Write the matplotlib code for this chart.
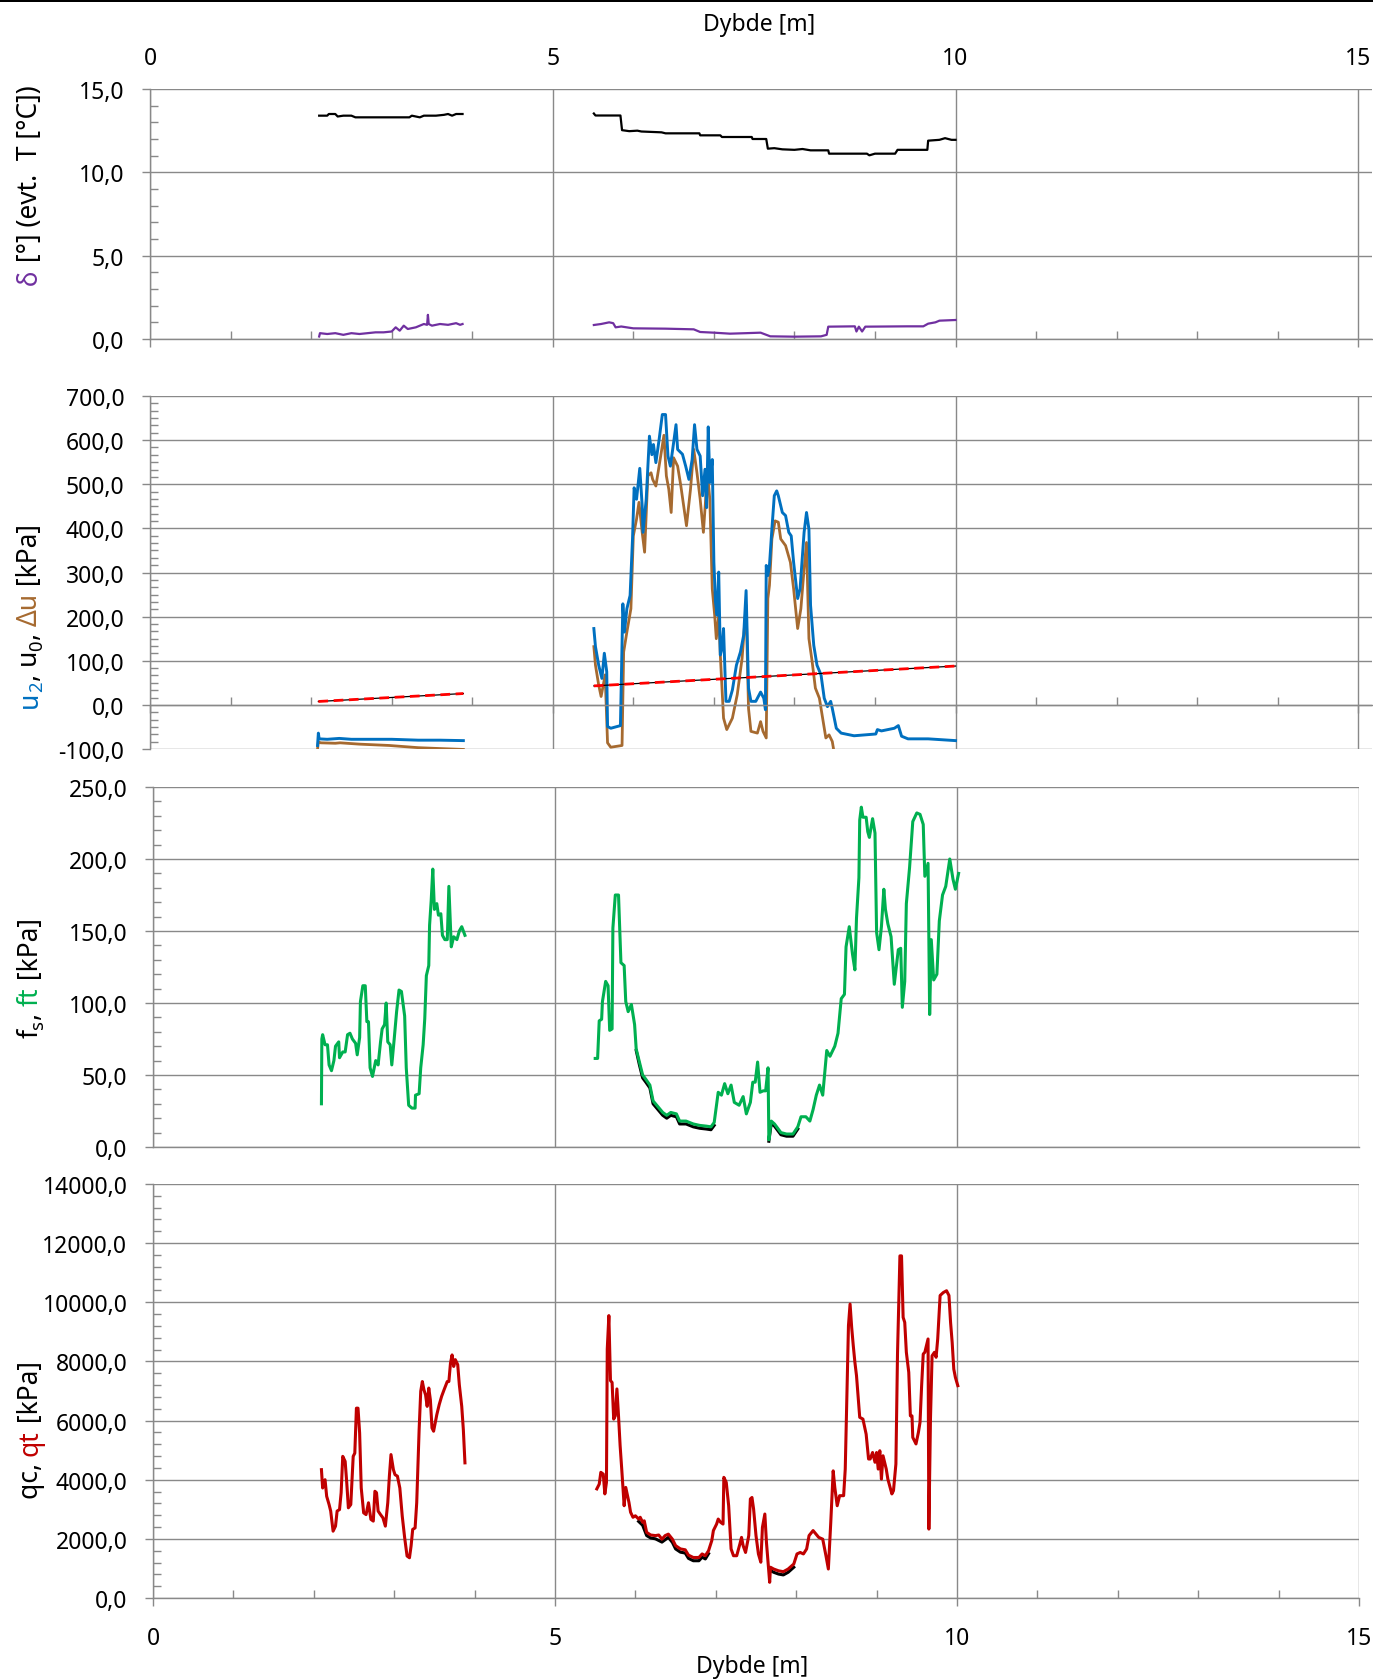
import matplotlib
matplotlib.use("Agg")
import matplotlib.pyplot as plt
from matplotlib.ticker import MultipleLocator, FuncFormatter
from matplotlib.patches import Rectangle

plt.rcParams['font.family'] = ['Noto Sans', 'DejaVu Sans']

# ---- data ----
# panel 1: temperature T (black) and inclination delta (purple)
T_z1 = [2.10, 2.20, 2.22, 2.30, 2.33, 2.40, 2.50, 2.55, 3.22, 3.25, 3.35, 3.40, 3.55, 3.65, 3.70, 3.75, 3.80, 3.88]
T_v1 = [13.4, 13.4, 13.5, 13.5, 13.35, 13.4, 13.4, 13.3, 13.3, 13.4, 13.3, 13.4, 13.4, 13.45, 13.5, 13.4, 13.5, 13.5]
T_z2 = [5.51, 5.53, 5.84, 5.86, 5.95, 6.05, 6.10, 6.25, 6.35, 6.40, 6.82, 6.83, 7.08, 7.10, 7.47, 7.48,
        7.65, 7.67, 7.75, 7.85, 8.00, 8.10, 8.20, 8.42, 8.43, 8.90, 8.93, 9.00, 9.25, 9.28, 9.65, 9.66,
        9.80, 9.87, 9.95, 10.0]
T_v2 = [13.53, 13.41, 13.41, 12.53, 12.47, 12.5, 12.45, 12.42, 12.4, 12.34, 12.34, 12.22, 12.22, 12.12, 12.12, 12.0,
        12.0, 11.42, 11.45, 11.38, 11.35, 11.4, 11.32, 11.32, 11.12, 11.12, 11.02, 11.12, 11.12, 11.35, 11.35, 11.9,
        11.95, 12.05, 11.95, 11.95]
d_z1 = [2.10, 2.11, 2.20, 2.30, 2.40, 2.45, 2.50, 2.60, 2.70, 2.80, 2.90, 3.00, 3.05, 3.10, 3.15, 3.20, 3.30,
        3.40, 3.44, 3.45, 3.46, 3.50, 3.60, 3.70, 3.80, 3.85, 3.88]
d_v1 = [0.15, 0.35, 0.3, 0.35, 0.25, 0.3, 0.35, 0.3, 0.35, 0.4, 0.4, 0.45, 0.7, 0.5, 0.8, 0.6, 0.7,
        0.9, 0.85, 1.45, 0.9, 0.8, 0.9, 0.85, 0.95, 0.85, 0.9]
d_z2 = [5.51, 5.60, 5.70, 5.75, 5.78, 5.85, 6.00, 6.40, 6.75, 6.83, 7.00, 7.20, 7.40, 7.58, 7.70, 8.00, 8.33,
        8.40, 8.42, 8.75, 8.77, 8.80, 8.84, 8.88, 9.40, 9.60, 9.66, 9.75, 9.80, 10.0]
d_v2 = [0.84, 0.9, 1.0, 0.95, 0.7, 0.75, 0.64, 0.62, 0.58, 0.42, 0.38, 0.32, 0.35, 0.38, 0.16, 0.14, 0.16,
        0.25, 0.74, 0.76, 0.45, 0.74, 0.45, 0.74, 0.76, 0.76, 0.92, 1.0, 1.1, 1.14]

# panel 2: u2 (blue), du (brown), u0 (black / red dashed)
u2_z1 = [2.08, 2.09, 2.10, 2.20, 2.35, 2.50, 3.00, 3.33, 3.60, 3.89]
u2_v1 = [-92, -64, -77, -78, -76, -78, -78, -80, -80, -81]
u2_z2 = [5.51, 5.53, 5.57, 5.61, 5.64, 5.67, 5.68, 5.72, 5.84, 5.87,
         5.89, 5.92, 5.96, 5.99, 6.01, 6.04, 6.08, 6.11, 6.12, 6.16,
         6.20, 6.23, 6.25, 6.28, 6.32, 6.36, 6.40, 6.43, 6.46, 6.50,
         6.53, 6.55, 6.61, 6.65, 6.69, 6.73, 6.76, 6.79, 6.83, 6.86,
         6.89, 6.91, 6.93, 6.95, 6.98, 7.00, 7.02, 7.04, 7.06, 7.08,
         7.10, 7.12, 7.15, 7.19, 7.23, 7.28, 7.33, 7.37, 7.40, 7.43,
         7.46, 7.52, 7.58, 7.62, 7.64, 7.65, 7.67, 7.69, 7.72, 7.75,
         7.78, 7.80, 7.85, 7.89, 7.93, 7.96, 7.99, 8.04, 8.07, 8.12,
         8.15, 8.18, 8.20, 8.24, 8.28, 8.33, 8.37, 8.41, 8.45, 8.47,
         8.52, 8.58, 8.74, 9.01, 9.03, 9.08, 9.24, 9.29, 9.33, 9.41,
         9.66, 10.0]
u2_v2 = [173, 132, 90, 60, 117, 75, -49, -53, -47, 229,
         165, 218, 248, 376, 492, 466, 536, 451, 391, 466,
         609, 567, 590, 549, 601, 658, 658, 564, 541, 594,
         635, 579, 568, 541, 511, 556, 635, 579, 564, 474,
         534, 447, 630, 504, 556, 323, 233, 203, 301, 113,
         128, 173, 8, 8, 34, 90, 120, 158, 259, 38,
         8, 8, 29, 15, -11, 316, 293, 316, 398, 474,
         485, 474, 436, 429, 391, 383, 323, 241, 263, 391,
         436, 398, 226, 135, 90, 68, 15, -4, 8, -8,
         -53, -64, -70, -66, -56, -59, -53, -47, -71, -77,
         -77, -81]
du_z1 = [2.08, 2.09, 2.12, 2.30, 2.36, 2.60, 2.97, 3.33, 3.60, 3.89]
du_v1 = [-100, -84, -86, -87, -86, -89, -92, -97, -99, -101]
du_z2 = [5.51, 5.53, 5.57, 5.60, 5.62, 5.65, 5.68, 5.72, 5.86, 5.88,
         5.92, 5.97, 6.00, 6.04, 6.07, 6.11, 6.14, 6.18, 6.22, 6.24,
         6.28, 6.34, 6.38, 6.41, 6.44, 6.47, 6.50, 6.55, 6.59, 6.66,
         6.71, 6.75, 6.79, 6.83, 6.87, 6.92, 6.95, 6.98, 7.01, 7.03,
         7.06, 7.08, 7.12, 7.16, 7.23, 7.29, 7.35, 7.40, 7.43, 7.46,
         7.54, 7.58, 7.61, 7.65, 7.67, 7.69, 7.72, 7.76, 7.80, 7.83,
         7.89, 7.95, 7.99, 8.04, 8.08, 8.12, 8.15, 8.18, 8.22, 8.26,
         8.31, 8.35, 8.39, 8.43, 8.47, 8.49]
du_v2 = [132, 90, 45, 19, 38, 68, -86, -96, -92, 120,
         165, 218, 383, 421, 459, 391, 346, 519, 526, 511,
         496, 564, 611, 519, 489, 436, 560, 541, 496, 406,
         489, 579, 526, 466, 391, 526, 466, 263, 203, 150,
         203, 113, -30, -56, -30, 23, 105, 226, -8, -60,
         -64, -38, -60, -75, 241, 271, 376, 417, 414, 376,
         361, 323, 263, 173, 218, 308, 368, 150, 98, 38,
         15, -30, -75, -68, -83, -105]
u0_z1 = [2.09, 3.89]
u0_v1 = [7.7, 25.7]
u0_z2 = [5.51, 10.0]
u0_v2 = [43, 88]

# panel 3: fs (black), ft (green)
ft_z1 = [2.095, 2.10, 2.11, 2.14, 2.17, 2.19, 2.22, 2.25, 2.27, 2.31,
         2.32, 2.36, 2.39, 2.42, 2.45, 2.48, 2.52, 2.54, 2.57, 2.58,
         2.61, 2.64, 2.66, 2.68, 2.70, 2.73, 2.77, 2.80, 2.83, 2.85,
         2.88, 2.90, 2.92, 2.95, 2.97, 3.00, 3.03, 3.06, 3.09, 3.13,
         3.15, 3.18, 3.22, 3.26, 3.265, 3.31, 3.33, 3.36, 3.38, 3.40,
         3.43, 3.44, 3.46, 3.48, 3.50, 3.53, 3.55, 3.58, 3.60, 3.63,
         3.66, 3.68, 3.71, 3.74, 3.78, 3.81, 3.84, 3.88]
ft_v1 = [30, 75, 78, 71, 71, 57, 53, 60, 70, 73,
         62, 66, 66, 78, 79, 75, 72, 64, 76, 101,
         112, 112, 87, 87, 55, 49, 60, 57, 73, 82,
         85, 100, 73, 71, 57, 75, 94, 109, 108, 91,
         55, 29, 27, 27, 36, 37, 55, 71, 89, 119,
         126, 154, 171, 193, 165, 169, 161, 162, 147, 144,
         144, 181, 139, 146, 144, 150, 153, 147]
ft_z2 = [5.50, 5.53, 5.55, 5.58, 5.59, 5.63, 5.66, 5.68, 5.71, 5.72,
         5.75, 5.79, 5.82, 5.86, 5.88, 5.91, 5.95, 5.99, 6.01, 6.05,
         6.09, 6.13, 6.18, 6.22, 6.28, 6.34, 6.39, 6.44, 6.51, 6.55,
         6.63, 6.72, 6.80, 6.88, 6.94, 6.98, 7.03, 7.07, 7.11, 7.15,
         7.19, 7.23, 7.29, 7.34, 7.38, 7.43, 7.46, 7.49, 7.52, 7.55,
         7.59, 7.62, 7.65, 7.66, 7.69, 7.73, 7.77, 7.81, 7.88, 7.96,
         8.02, 8.06, 8.12, 8.17, 8.21, 8.25, 8.29, 8.33, 8.38, 8.42,
         8.48, 8.52, 8.56, 8.60, 8.62, 8.66, 8.70, 8.73, 8.75, 8.78,
         8.79, 8.81, 8.83, 8.87, 8.89, 8.91, 8.95, 8.98, 9.00, 9.03,
         9.06, 9.09, 9.11, 9.14, 9.18, 9.22, 9.27, 9.30, 9.32, 9.35,
         9.37, 9.41, 9.45, 9.50, 9.54, 9.58, 9.60, 9.64, 9.66, 9.68,
         9.71, 9.75, 9.78, 9.82, 9.86, 9.91, 9.95, 9.98, 10.02]
ft_v2 = [61.5, 61.5, 87.6, 88.7, 101, 115, 112, 81, 82, 152,
         175, 175, 128, 126, 101, 94, 99, 85, 68, 59,
         50, 47, 43, 32, 28, 24, 22, 24, 23, 18,
         18, 16, 15, 14.5, 14, 17, 38, 36, 44, 37,
         43, 31, 29, 35, 23, 31, 45, 45, 59, 38,
         39, 39, 55, 5, 18, 16, 13, 10, 9, 9,
         14, 21, 21, 18, 26, 36, 43, 36, 67, 63,
         70, 79, 103, 106, 139, 153, 134, 123, 159, 187,
         227, 236, 229, 229, 219, 215, 228, 218, 149, 137,
         153, 179, 165, 155, 146, 113, 137, 138, 97, 115,
         169, 194, 226, 232, 231, 224, 188, 197, 92, 144,
         116, 120, 157, 175, 181, 200, 186, 179, 190]
fs_za = [6.01, 6.05, 6.09, 6.13, 6.18, 6.22, 6.28, 6.34, 6.39, 6.44, 6.51, 6.55, 6.63, 6.72, 6.80, 6.88, 6.94, 6.98]
fs_va = [67, 57, 48, 45, 41, 30, 26, 22, 20, 22, 21, 16, 16, 14, 13, 12.5, 12, 15]
fs_zb = [7.66, 7.69, 7.73, 7.77, 7.81, 7.88, 7.96, 8.02]
fs_vb = [4, 16.5, 14.5, 11.5, 8.5, 7.5, 7.5, 12.5]

# panel 4: qc (black), qt (red)
qt_z1 = [2.095, 2.11, 2.14, 2.16, 2.19, 2.21, 2.24, 2.27, 2.29, 2.32,
         2.34, 2.36, 2.39, 2.41, 2.43, 2.46, 2.49, 2.51, 2.53, 2.55,
         2.57, 2.59, 2.62, 2.65, 2.68, 2.71, 2.74, 2.76, 2.78, 2.80,
         2.83, 2.86, 2.89, 2.92, 2.94, 2.96, 2.99, 3.01, 3.04, 3.07,
         3.10, 3.13, 3.16, 3.19, 3.21, 3.23, 3.26, 3.28, 3.31, 3.33,
         3.35, 3.37, 3.39, 3.41, 3.43, 3.45, 3.47, 3.49, 3.51, 3.53,
         3.56, 3.59, 3.62, 3.66, 3.68, 3.70, 3.72, 3.74, 3.76, 3.79,
         3.81, 3.84, 3.86, 3.88]
qt_v1 = [4340, 3720, 4000, 3440, 3160, 2940, 2260, 2430, 2940, 2990,
         3560, 4790, 4620, 3890, 3050, 3160, 4790, 4900, 6420, 6420,
         5580, 3720, 2880, 2820, 3220, 2660, 2600, 3610, 3560, 2940,
         2820, 2710, 2430, 3220, 4120, 4850, 4340, 4170, 4120, 3720,
         2770, 2040, 1420, 1360, 1760, 2320, 2370, 3220, 5690, 6990,
         7320, 7040, 6870, 6480, 7100, 6700, 5750, 5640, 5920, 6200,
         6540, 6820, 7040, 7320, 7320, 7940, 8220, 7830, 8060, 7890,
         7210, 6480, 5690, 4570]
qt_z2 = [5.52, 5.55, 5.57, 5.60, 5.62, 5.64, 5.65, 5.67, 5.69, 5.71,
         5.73, 5.75, 5.77, 5.79, 5.81, 5.83, 5.86, 5.88, 5.92, 5.94,
         5.97, 6.00, 6.04, 6.06, 6.09, 6.11, 6.14, 6.19, 6.25, 6.29,
         6.33, 6.37, 6.41, 6.46, 6.50, 6.56, 6.62, 6.66, 6.72, 6.79,
         6.83, 6.87, 6.91, 6.95, 6.97, 7.01, 7.03, 7.06, 7.09, 7.10,
         7.13, 7.16, 7.19, 7.22, 7.26, 7.30, 7.32, 7.34, 7.37, 7.41,
         7.43, 7.45, 7.47, 7.50, 7.53, 7.56, 7.58, 7.61, 7.63, 7.67,
         7.68, 7.72, 7.78, 7.84, 7.90, 7.97, 8.01, 8.05, 8.09, 8.13,
         8.16, 8.21, 8.28, 8.33, 8.37, 8.40, 8.43, 8.46, 8.48, 8.51,
         8.54, 8.59, 8.61, 8.63, 8.65, 8.67, 8.69, 8.71, 8.73, 8.75,
         8.79, 8.83, 8.87, 8.90, 8.92, 8.95, 8.98, 9.00, 9.02, 9.04,
         9.06, 9.08, 9.12, 9.14, 9.19, 9.21, 9.24, 9.26, 9.28, 9.29,
         9.31, 9.33, 9.35, 9.37, 9.40, 9.42, 9.44, 9.45, 9.49, 9.52,
         9.54, 9.56, 9.58, 9.60, 9.63, 9.64, 9.65, 9.67, 9.69, 9.72,
         9.74, 9.76, 9.79, 9.83, 9.87, 9.90, 9.92, 9.94, 9.96, 9.98,
         10.01]
qt_v2 = [3690, 3850, 4250, 4190, 3520, 3910, 8420, 9550, 7350, 7290,
         6050, 6160, 7070, 6160, 5150, 4360, 3120, 3740, 3230, 2900,
         2730, 2780, 2670, 2730, 2560, 2610, 2220, 2130, 2110, 2130,
         1990, 2110, 2160, 1990, 1770, 1660, 1630, 1450, 1370, 1370,
         1490, 1430, 1600, 1940, 2280, 2500, 2670, 2560, 2500, 4080,
         3910, 3120, 1660, 1430, 1430, 1830, 2050, 1770, 1540, 2110,
         3350, 3400, 3010, 2110, 1490, 1210, 2390, 2840, 1880, 530,
         1040, 980, 920, 890, 980, 1150, 1490, 1540, 1490, 1660,
         2110, 2280, 2050, 1990, 1430, 980, 2560, 4300, 3740, 3120,
         3460, 3460, 4360, 6840, 9210, 9940, 9150, 8530, 7970, 7520,
         6110, 6050, 5540, 4700, 4700, 4920, 4590, 4920, 4360, 4980,
         4020, 4810, 4360, 4020, 3520, 3630, 4530, 8250, 10450, 11570,
         11570, 9490, 9320, 8310, 7630, 6160, 6160, 5430, 5210, 5600,
         5940, 7180, 8250, 8310, 8640, 8760, 2330, 6050, 8190, 8310,
         8140, 8760, 10230, 10330, 10390, 10230, 9320, 8640, 7740, 7460,
         7180]
qc_za = [6.04, 6.09, 6.14, 6.19, 6.25, 6.33, 6.41, 6.46, 6.50, 6.56, 6.62, 6.66, 6.72, 6.79, 6.83, 6.87, 6.91]
qc_va = [2590, 2460, 2110, 2030, 2000, 1890, 2050, 1880, 1660, 1550, 1520, 1340, 1260, 1260, 1380, 1320, 1500]
qc_zb = [7.68, 7.72, 7.78, 7.84, 7.90, 7.97]
qc_vb = [930, 870, 810, 780, 870, 1040]

# ---- figure ----
W, H = 1373, 1681
GRID = '#898989'
FS = 16.5
BLUE, BROWN, GREEN, RED, PURPLE = '#0070C0', '#A66A30', '#00B050', '#C00000', '#7030A0'

fig = plt.figure(figsize=(W / 100, H / 100), dpi=100)


def px_axes(x0, x1, ytop, ybot):
    return fig.add_axes([x0 / W, 1 - ybot / H, (x1 - x0) / W, (ybot - ytop) / H])


def comma(v, pos):
    return f'{v:.1f}'.replace('.', ',')


def style(ax, xmax, ymin, ymax, major, minor):
    ax.set_xlim(0, xmax)
    ax.set_ylim(ymin, ymax)
    ax.xaxis.set_major_locator(MultipleLocator(5))
    ax.xaxis.set_minor_locator(MultipleLocator(1))
    ax.yaxis.set_major_locator(MultipleLocator(major))
    ax.yaxis.set_minor_locator(MultipleLocator(minor))
    ax.yaxis.set_major_formatter(FuncFormatter(comma))
    for s in ['top', 'right']:
        ax.spines[s].set_visible(False)
    for s in ['left', 'bottom']:
        ax.spines[s].set_color(GRID)
        ax.spines[s].set_linewidth(1.0)
    ax.grid(True, which='major', color=GRID, lw=1.0)
    ax.set_axisbelow(True)
    ax.tick_params(axis='y', which='major', direction='out', length=5.5, width=1, color=GRID,
                   labelsize=FS, pad=13)
    ax.tick_params(axis='y', which='minor', direction='in', length=5.5, width=1, color=GRID)
    ax.tick_params(axis='x', which='major', direction='out', length=6, width=1, color=GRID,
                   labelsize=FS, pad=14)
    ax.tick_params(axis='x', which='minor', direction='in', length=6, width=1, color=GRID)
    ax.tick_params(axis='x', labelbottom=False)


ax1 = px_axes(150, 1372, 90, 340)
ax2 = px_axes(150, 1372, 397, 750)
ax3 = px_axes(153, 1359, 788, 1148)
ax4 = px_axes(153, 1359, 1185, 1599)

style(ax1, 15.17, 0, 15, 5, 1)
style(ax2, 15.17, -100, 700, 100, 100 / 6)
style(ax3, 15, 0, 250, 50, 10)
style(ax4, 15, 0, 14000, 2000, 400)

ax2.spines['bottom'].set_position(('data', 0))
ax3.tick_params(axis='x', which='both', bottom=False)
ax4.tick_params(axis='x', labelbottom=True)

top = ax1.secondary_xaxis('top')
top.set_xticks([0, 5, 10, 15])
top.tick_params(length=0, labelsize=FS, pad=14)
top.spines['top'].set_visible(False)

# panel 1
ax1.plot(T_z1, T_v1, color='black', lw=1.6)
ax1.plot(T_z2, T_v2, color='black', lw=1.6)
ax1.plot(d_z1, d_v1, color=PURPLE, lw=1.6)
ax1.plot(d_z2, d_v2, color=PURPLE, lw=1.6)

# panel 2
for z, v in [(du_z1, du_v1), (du_z2, du_v2)]:
    ax2.plot(z, v, color=BROWN, lw=2.0)
for z, v in [(u2_z1, u2_v1), (u2_z2, u2_v2)]:
    ax2.plot(z, v, color=BLUE, lw=2.1)
for z, v in [(u0_z1, u0_v1), (u0_z2, u0_v2)]:
    ax2.plot(z, v, color='black', lw=0.9)
    ax2.plot(z, v, color='#FF0000', lw=2.0, dashes=(3.5, 2))

# panel 3
ax3.plot(fs_za, fs_va, color='black', lw=2.2)
ax3.plot(fs_zb, fs_vb, color='black', lw=2.2)
ax3.plot(ft_z1, ft_v1, color=GREEN, lw=2.2)
ax3.plot(ft_z2, ft_v2, color=GREEN, lw=2.2)

# panel 4
ax4.plot(qc_za, qc_va, color='black', lw=2.2)
ax4.plot(qc_zb, qc_vb, color='black', lw=2.2)
ax4.plot(qt_z1, qt_v1, color=RED, lw=2.2)
ax4.plot(qt_z2, qt_v2, color=RED, lw=2.2)

# ---- multi-coloured y titles ----
renderer = fig.canvas.get_renderer()


def text_width(s, size):
    t = fig.text(0, 0, s + '|', fontsize=size)
    w = t.get_window_extent(renderer).width
    t.remove()
    t = fig.text(0, 0, '|', fontsize=size)
    w -= t.get_window_extent(renderer).width
    t.remove()
    return w


def color_title(x_base, y_center, parts, size=19):
    sizes = [size * 0.7 if sub else size for _, _, sub in parts]
    widths = [text_width(s, sz) for (s, _, _), sz in zip(parts, sizes)]
    y = (H - y_center) - sum(widths) / 2
    for (s, c, sub), sz, w in zip(parts, sizes, widths):
        x = x_base + (size * 0.25 if sub else 0)
        fig.text(x / W, y / H, s, color=c, fontsize=sz, rotation=90,
                 rotation_mode='anchor', ha='left', va='baseline')
        y += w


color_title(37, 185, [('δ', PURPLE, 0), (' [°] (evt.  T [°C])', 'black', 0)])
color_title(37, 616, [('u', BLUE, 0), ('2', BLUE, 1), (', u', 'black', 0), ('0', 'black', 1),
                      (', ', 'black', 0), ('Δu', BROWN, 0), (' [kPa]', 'black', 0)])
color_title(38, 978, [('f', 'black', 0), ('s', 'black', 1), (', ', 'black', 0),
                      ('ft', GREEN, 0), (' [kPa]', 'black', 0)])
color_title(38, 1430, [('qc, ', 'black', 0), ('qt', RED, 0), (' [kPa]', 'black', 0)])

fig.text(759 / W, 1 - 25 / H, 'Dybde [m]', ha='center', va='center', fontsize=FS)
fig.text(752 / W, 1 - 1667 / H, 'Dybde [m]', ha='center', va='center', fontsize=FS)
fig.add_artist(Rectangle((0, 1 - 3 / H), 1, 3 / H, transform=fig.transFigure,
                         color='black', lw=0))

fig.savefig('out.png', dpi=100)
